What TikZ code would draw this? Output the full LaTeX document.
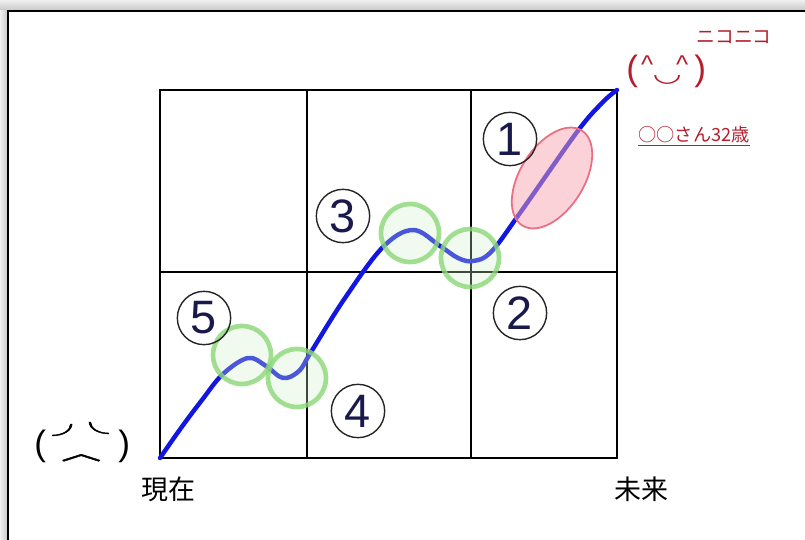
\documentclass[tikz,border=0pt]{standalone}
\usepackage{fontspec}
\usepackage{graphicx}
\usepackage{tikz}
\newfontfamily\jp{Noto Sans CJK JP}
\newfontfamily\jpb[FakeBold=2]{Noto Sans CJK JP}
\newfontfamily\dv{DejaVu Sans}
\newfontfamily\lib{Liberation Sans}
\definecolor{curveblue}{RGB}{18,22,225}
\definecolor{facered}{RGB}{180,30,45}
\definecolor{numnavy}{RGB}{25,25,75}
\definecolor{ringgreen}{RGB}{140,215,120}
\definecolor{blobred}{RGB}{235,110,130}
\definecolor{blobfill}{RGB}{245,165,175}
% one glyph of a face, centred at x, baseline raised by y
\newcommand{\putat}[3]{\rlap{\hspace{#1}\makebox[0pt]{\raisebox{#2}{#3}}}}

\begin{document}
\begin{tikzpicture}[x=0.03cm, y=-0.03cm,
  gridline/.style={line width=1.6pt},
  num/.style={circle, draw=black!85, line width=1.2pt, minimum size=1.6cm, inner sep=0pt,
    text=numnavy, font=\lib\fontsize{40}{40}\selectfont},
  ring/.style={draw=ringgreen, line width=4pt, fill=ringgreen!40, fill opacity=0.3, draw opacity=0.8},
  axistext/.style={inner sep=0pt, font=\jp\fontsize{23}{23}\selectfont},
  face/.style={inner sep=0pt, anchor=base west},
  redtext/.style={inner sep=0pt, text=facered}]
\useasboundingbox (0,0) rectangle (805,540);
% frame with shadow
\shade[top color=gray!12, bottom color=gray!45] (0,0) rectangle (805,11);
\shade[left color=gray!12, right color=gray!45] (0,11) rectangle (8,540);
\draw[line width=1.2pt] (8,540) -- (8,11) -- (805,11);

% grid
\draw[gridline] (160,90) rectangle (617,458);
\draw[gridline] (307,90) -- (307,458);
\draw[gridline] (471,90) -- (471,458);
\draw[gridline] (160,272) -- (617,272);

% curve
\draw[curveblue, line width=3.8pt, line cap=round] plot[smooth, tension=0.6] coordinates {
  (160,458) (181,428) (202,400) (223,374) (248,358) (266,366) (283,378)
  (299,371) (311,352) (345,298) (383,247) (413,230) (440,246) (458,258)
  (473,261) (491,252) (520,213) (577,132) (603,102) (617,90)};

% rings and blob
\draw[ring] (242,355) circle (29);
\draw[ring] (297,378) circle (29);
\draw[ring] (410,233) circle (29);
\draw[ring] (470,258) circle (29);
\begin{scope}[shift={(552,178)}, rotate=58]
  \draw[draw=blobred, line width=1.5pt, fill=blobfill, fill opacity=0.5] (0,0) ellipse (56 and 32);
\end{scope}

% numbers
\node[num] (n1) at (510,139) {1};
\node[num] (n2) at (520,313) {2};
\node[num] (n3) at (343,216) {3};
\node[num] (n4) at (358,411) {4};
\node[num] (n5) at (204,318) {5};

% axis texts
\node[axistext] (now) at (168,489) {現在};
\node[axistext] (future) at (641,489) {未来};

% sad face
\node[face] (sad) at (30,455) {\makebox[2.9cm][l]{%
  \putat{0.30cm}{0pt}{\lib\fontsize{30}{30}\selectfont(}%
  \putat{1.23cm}{0.33cm}{\scalebox{1}[0.6]{\jpb\fontsize{32}{32}\selectfont ╯}}%
  \putat{1.79cm}{0.39cm}{\scalebox{1}[0.6]{\jpb\fontsize{32}{32}\selectfont ╰}}%
  \putat{1.53cm}{-0.15cm}{\scalebox{1}[0.5]{\jpb\fontsize{34}{34}\selectfont ︿}}%
  \putat{2.82cm}{0pt}{\lib\fontsize{30}{30}\selectfont)}}};

% happy face
\node[face, text=facered] (happy) at (620,81) {\makebox[2.6cm][l]{%
  \putat{0.36cm}{0pt}{\lib\fontsize{30}{30}\selectfont(}%
  \putat{0.81cm}{0.21cm}{\lib\fontsize{22}{22}\selectfont\textasciicircum}%
  \putat{1.86cm}{0.21cm}{\lib\fontsize{22}{22}\selectfont\textasciicircum}%
  \putat{1.41cm}{-0.03cm}{\scalebox{1.3}[0.9]{\dv\fontsize{22}{22}\selectfont ◡}}%
  \putat{2.40cm}{0pt}{\lib\fontsize{30}{30}\selectfont)}}};
\node[redtext, font=\jp\fontsize{16}{16}\selectfont] (smile) at (734,37) {ニコニコ};
\node[redtext, font=\jp\fontsize{15.5}{15.5}\selectfont] (who) at (694,135) {○○さん32歳};
\draw[facered, line width=0.8pt] (who.south west) ++(0,2) coordinate (ul) -- (ul -| who.south east);
\end{tikzpicture}
\end{document}
